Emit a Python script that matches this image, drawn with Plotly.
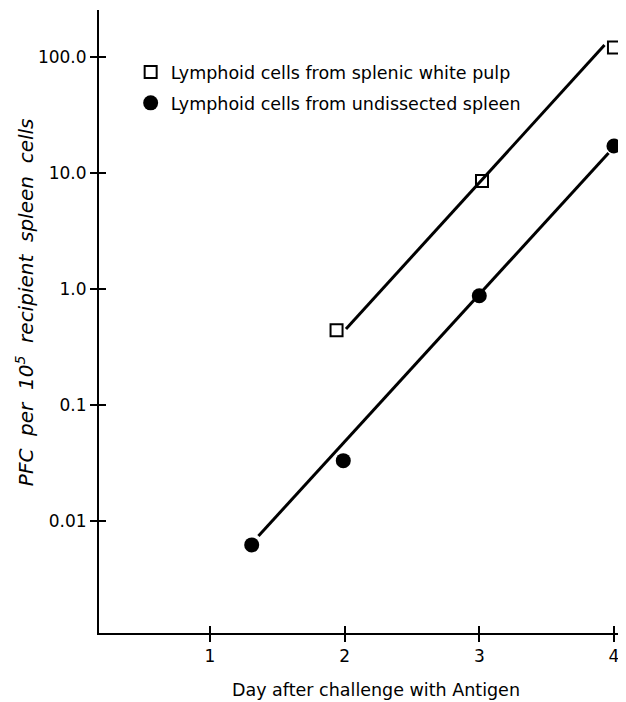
import plotly.graph_objects as go

# Data
days_white_pulp = [1.94, 3.02, 4.0]
pfc_white_pulp = [0.44, 8.5, 120.0]
days_spleen = [1.31, 1.99, 3.0, 4.0]
pfc_spleen = [0.0062, 0.033, 0.87, 17.0]

# Fitted regression lines (endpoints as drawn)
fit_white_days = [2.01, 3.93]
fit_white_pfc = [0.45, 126.0]
fit_spleen_days = [1.36, 3.96]
fit_spleen_pfc = [0.0074, 14.8]

x_ticks = [1, 2, 3, 4]
y_ticks = [0.01, 0.1, 1, 10, 100]
y_tick_labels = ["0.01", "0.1", "1.0", "10.0", "100.0"]

FONT = "DejaVu Sans"
xr = [0.176, 4.03]
yr = [-2.967, 2.403]

fig = go.Figure()
fig.add_trace(go.Scatter(x=fit_white_days, y=fit_white_pfc, mode="lines",
                         line=dict(color="black", width=3), showlegend=False,
                         xaxis="x2", yaxis="y2"))
fig.add_trace(go.Scatter(x=fit_spleen_days, y=fit_spleen_pfc, mode="lines",
                         line=dict(color="black", width=3), showlegend=False,
                         xaxis="x2", yaxis="y2"))
fig.add_trace(go.Scatter(x=days_white_pulp, y=pfc_white_pulp, mode="markers",
                         name="Lymphoid cells from splenic white pulp",
                         legendgroup="a",
                         marker=dict(symbol="square-open", size=12, color="black",
                                     line=dict(width=2, color="black")),
                         cliponaxis=False))
fig.add_trace(go.Scatter(x=days_spleen, y=pfc_spleen, mode="markers",
                         name="Lymphoid cells from undissected spleen",
                         legendgroup="b",
                         marker=dict(symbol="circle", size=15, color="black"),
                         cliponaxis=False))

axis_common = dict(showgrid=False, zeroline=False, showline=True, linecolor="black",
                   linewidth=2, tickcolor="black", tickwidth=2, ticklen=7,
                   automargin=False)

fig.update_layout(
    width=610, height=694,
    margin=dict(l=91, r=0, t=2, b=69),
    paper_bgcolor="white", plot_bgcolor="white",
    font=dict(family=FONT, color="black", size=17),
    xaxis=dict(range=xr, tickvals=x_ticks, ticks="outside", ticklabeloverflow="allow",
               tickfont=dict(size=17), **axis_common),
    yaxis=dict(type="log", range=yr, tickvals=y_ticks, ticktext=y_tick_labels,
               ticks="outside", tickfont=dict(size=17), **axis_common),
    xaxis2=dict(range=xr, overlaying="x", tickvals=x_ticks, ticks="inside",
                showticklabels=False, **axis_common),
    yaxis2=dict(type="log", range=yr, overlaying="y", tickvals=y_ticks, ticks="inside",
                showticklabels=False, **axis_common),
    legend=dict(x=0.061, y=0.929, xanchor="left", yanchor="top",
                bgcolor="rgba(0,0,0,0)", font=dict(size=17.5, family=FONT),
                tracegroupgap=5, itemwidth=30),
    annotations=[
        dict(text="Day after challenge with Antigen", xref="paper", yref="paper",
             x=0.533, y=-0.0915, xanchor="center", yanchor="middle",
             showarrow=False, font=dict(size=17.5)),
        dict(text="<i>PFC  per  10<sup>5</sup>  recipient  spleen  cells</i>",
             xref="paper", yref="paper", x=-0.1426, y=0.531, textangle=-90,
             xanchor="center", yanchor="middle", showarrow=False,
             font=dict(size=20)),
    ],
)

fig.write_html("out.html")
